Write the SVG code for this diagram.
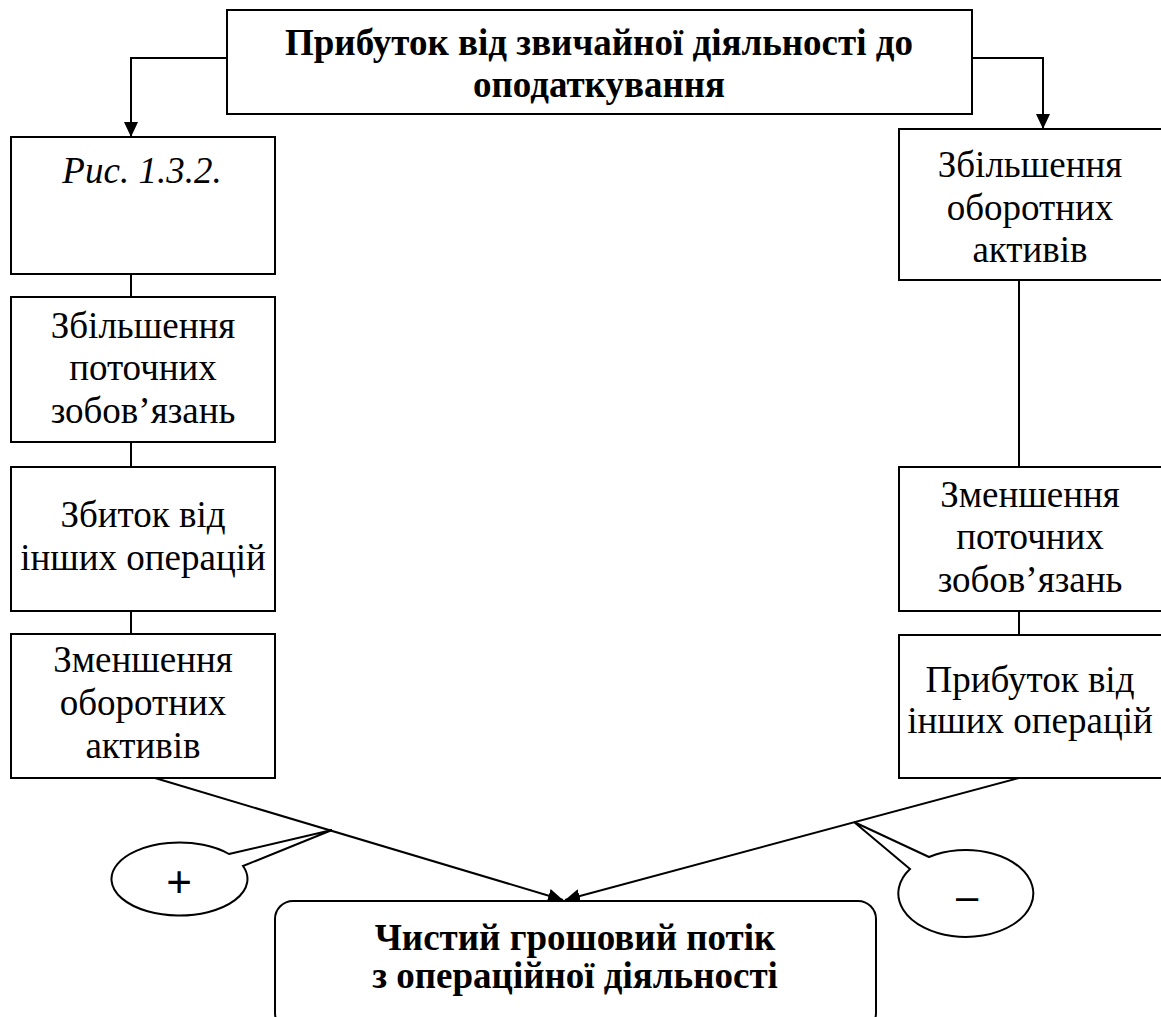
<svg xmlns="http://www.w3.org/2000/svg" width="1161" height="1017" viewBox="0 0 1161 1017">
<style>
.box{fill:#fff;stroke:#000;stroke-width:2}
.ln{fill:none;stroke:#000;stroke-width:2}
.t{font-family:"Liberation Serif","Times New Roman",serif;font-size:37px;text-anchor:middle;fill:#000}
.b{font-weight:bold}
.i{font-style:italic}
.s{font-family:"Liberation Sans",Arial,sans-serif;text-anchor:middle;fill:#000}
</style>
<defs>
<marker id="arr" markerUnits="userSpaceOnUse" markerWidth="16" markerHeight="14" refX="15" refY="7" orient="auto">
<path d="M0,0 L15,7 L0,14 z" fill="#000"/>
</marker>
</defs>
<g id="connectors">
<polyline class="ln" points="227,58 131,58 131,137" marker-end="url(#arr)"/>
<polyline class="ln" points="972,58 1043,58 1043,129" marker-end="url(#arr)"/>
<line class="ln" x1="131" y1="274" x2="131" y2="297"/>
<line class="ln" x1="131" y1="442" x2="131" y2="467"/>
<line class="ln" x1="131" y1="611" x2="131" y2="634"/>
<line class="ln" x1="1019" y1="280" x2="1019" y2="467"/>
<line class="ln" x1="1019" y1="611" x2="1019" y2="635"/>
<line class="ln" x1="155" y1="778" x2="563" y2="900" marker-end="url(#arr)"/>
<line class="ln" x1="1019" y1="778" x2="565" y2="900" marker-end="url(#arr)"/>
</g>
<g id="top">
<rect class="box" x="227" y="10" width="745" height="104"/>
<text class="t b" x="599" y="55">Прибуток від звичайної діяльності до</text>
<text class="t b" x="599" y="97">оподаткування</text>
</g>
<g id="l1">
<rect class="box" x="11" y="137" width="264" height="137"/>
<text class="t i" x="142" y="183">Рис. 1.3.2.</text>
</g>
<g id="l2">
<rect class="box" x="11" y="297" width="264" height="145"/>
<text class="t" x="143" y="338">Збільшення</text>
<text class="t" x="143" y="380">поточних</text>
<text class="t" x="143" y="423">зобов’язань</text>
</g>
<g id="l3">
<rect class="box" x="11" y="467" width="264" height="144"/>
<text class="t" x="143" y="527">Збиток від</text>
<text class="t" x="143" y="570">інших операцій</text>
</g>
<g id="l4">
<rect class="box" x="11" y="634" width="264" height="144"/>
<text class="t" x="143" y="672">Зменшення</text>
<text class="t" x="143" y="715">оборотних</text>
<text class="t" x="143" y="758">активів</text>
</g>
<g id="r1">
<rect class="box" x="899" y="129" width="263" height="151"/>
<text class="t" x="1030" y="177">Збільшення</text>
<text class="t" x="1030" y="220">оборотних</text>
<text class="t" x="1030" y="262">активів</text>
</g>
<g id="r2">
<rect class="box" x="899" y="467" width="263" height="144"/>
<text class="t" x="1030" y="507">Зменшення</text>
<text class="t" x="1030" y="549">поточних</text>
<text class="t" x="1030" y="592">зобов’язань</text>
</g>
<g id="r3">
<rect class="box" x="899" y="635" width="263" height="143"/>
<text class="t" x="1030" y="692">Прибуток від</text>
<text class="t" x="1030" y="733">інших операцій</text>
</g>
<g id="plus">
<path class="box" d="M229,854 L332,830 L243,866 A68,36.5 0 1 1 229,854 Z"/>
<text class="s" x="179" y="897" font-size="44">+</text>
</g>
<g id="minus">
<path class="box" d="M929,857 L854,822 L910,869 A67.5,43.5 0 1 0 929,857 Z"/>
<text class="s" x="967" y="910" font-size="40">–</text>
</g>
<g id="result">
<rect class="box" x="275" y="901" width="601" height="130" rx="18" ry="18"/>
<text class="t b" x="575" y="950">Чистий грошовий потік</text>
<text class="t b" x="575" y="988">з операційної діяльності</text>
</g>
</svg>
